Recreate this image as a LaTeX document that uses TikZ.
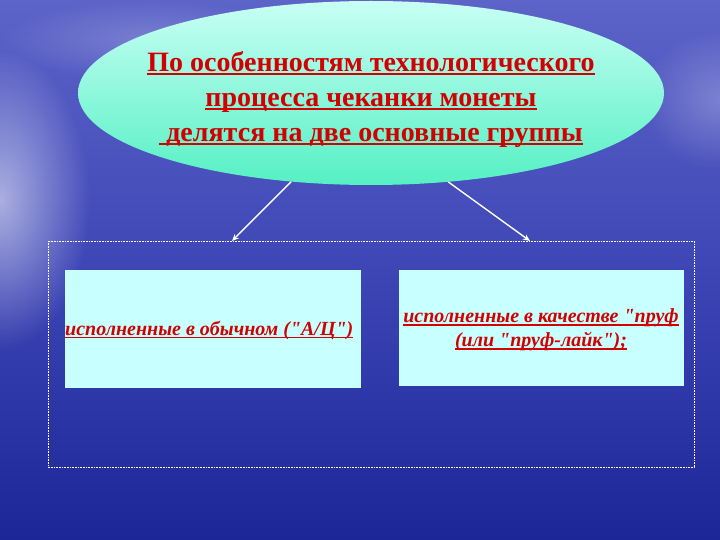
\documentclass[tikz,border=0pt]{standalone}
\usepackage{fontspec}
\setmainfont{Liberation Serif}[Ligatures=TeXOff]
\newcommand\myul[1]{\setbox0\hbox{#1}\rlap{\color{txtred}\rule[-3pt]{\wd0}{1.5pt}}\box0}
\usetikzlibrary{shapes.geometric,arrows.meta,fadings}
\definecolor{bgtop}{RGB}{92,100,200}
\definecolor{bgmid}{RGB}{62,70,182}
\definecolor{bgbot}{RGB}{28,38,150}
\definecolor{elltop}{RGB}{200,255,245}
\definecolor{ellbot}{RGB}{85,240,195}
\definecolor{boxfill}{RGB}{200,255,255}
\definecolor{txtred}{RGB}{210,0,0}
\tikzfading[name=glow, inner color=transparent!0, outer color=transparent!100]
\tikzset{
  titletext/.style={font=\fontsize{28}{35}\selectfont\bfseries\color{txtred}, text=txtred, align=center},
  boxtext/.style={font=\fontsize{20}{24}\selectfont\bfseries\itshape\color{txtred}, text=txtred, align=center},
  greenbox/.style={fill=boxfill, draw=none, inner sep=0pt},
  arrowline/.style={draw=white, line width=1.4pt, -{Stealth[length=7pt,width=6pt]}},
}
\begin{document}
\begin{tikzpicture}[x=1pt,y=-1pt]
\useasboundingbox (0,0) rectangle (720,540);
% background
\shade[top color=bgtop, bottom color=bgbot, middle color=bgmid] (0,0) rectangle (720,540);
\fill[white, opacity=0.55, path fading=glow] (0,200) ellipse [x radius=90, y radius=150];
\fill[white, opacity=0.25, path fading=glow] (720,100) ellipse [x radius=80, y radius=70];
\fill[white, opacity=0.2, path fading=glow] (150,40) ellipse [x radius=150, y radius=40];
% ellipse
\node[ellipse, minimum width=586pt, minimum height=184pt, inner sep=0pt,
      top color=elltop, bottom color=ellbot, draw=none] (e) at (371,93) {};
\node[titletext] (t) at (371,100) {\myul{По особенностям технологического}\\
\myul{процесса чеканки монеты}\\
\myul{\ делятся на две основные группы}};
% dotted frame
\draw[white, densely dotted, line width=0.6pt] (48,241) rectangle (694,467);
\coordinate (a1) at (232,241);
\coordinate (a2) at (530,241);
\draw[arrowline] (e.228) -- (a1);
\draw[arrowline] (e.311) -- (a2);
% boxes
\node[greenbox, minimum width=296pt, minimum height=118pt] (b1) at (213,329) {};
\node[greenbox, minimum width=285pt, minimum height=116pt] (b2) at (541.5,328) {};
\node[boxtext, anchor=west, inner sep=0pt] (l1) at (65,330) {\myul{исполненные в обычном ("А/Ц")}};
\node[boxtext] (l2) at (541,330) {\myul{исполненные в качестве "пруф}\\\myul{(или "пруф-лайк");}};
\end{tikzpicture}
\end{document}
